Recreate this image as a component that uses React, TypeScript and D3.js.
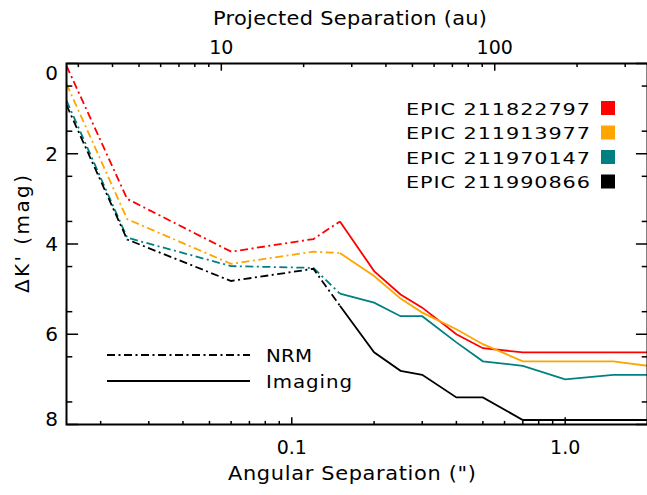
import React from "react";
import * as d3 from "d3";

const W = 647;
const H = 495;

const stars = ["EPIC 211822797", "EPIC 211913977", "EPIC 211970147", "EPIC 211990866"];
const colors = ["#ff0000", "#ffa500", "#008080", "#000000"];

const nrmSep = [0.015, 0.025, 0.06, 0.12, 0.15];
const nrmRed = [0.05, 3.0, 4.17, 3.89, 3.5];
const nrmOrange = [0.45, 3.45, 4.44, 4.17, 4.2];
const nrmTeal = [0.82, 3.86, 4.49, 4.53, 5.1];
const nrmBlack = [0.92, 3.9, 4.82, 4.55, 5.37];

const imgSep = [0.15, 0.2, 0.25, 0.3, 0.4, 0.5, 0.7, 1.0, 1.5, 2.0];
const imgRed = [3.5, 4.6, 5.12, 5.41, 6.0, 6.31, 6.4, 6.4, 6.4, 6.4];
const imgOrange = [4.2, 4.71, 5.21, 5.52, 5.89, 6.22, 6.6, 6.6, 6.6, 6.7];
const imgTeal = [5.1, 5.3, 5.6, 5.6, 6.18, 6.6, 6.7, 7.0, 6.9, 6.9];
const imgBlack = [5.37, 6.4, 6.81, 6.9, 7.4, 7.4, 7.9, 7.9, 7.9, 7.9];

const xMajor = [0.1, 1.0];
const xMajorLabels = ["0.1", "1.0"];
const topMajor = [10, 100];
const topMajorLabels = ["10", "100"];
const yMajor = [0, 2, 4, 6, 8];
const yMajorLabels = ["0", "2", "4", "6", "8"];
const distancePc = 181;

const FONT = "'DejaVu Sans', sans-serif";

function WideText(props: {
  x: number; y: number; sx: number; len: number; anchor?: string; size: number; rotate?: number; children: string;
}) {
  const { x, y, sx, len, anchor = "start", size, rotate = 0, children } = props;
  return (
    <text
      transform={`translate(${x},${y}) rotate(${rotate}) scale(${sx},1)`}
      textAnchor={anchor}
      fontSize={size}
      textLength={len / sx}
      lengthAdjust="spacing"
    >
      {children}
    </text>
  );
}

export default function App() {
  const left = 66.5, right = 647.5, top = 63.5, bottom = 424.5;
  const x = d3.scaleLog().domain([0.015, 2.0]).range([left, right]);
  const xTop = d3.scaleLog().domain([0.015 * distancePc, 2.0 * distancePc]).range([left, right]);
  const y = d3.scaleLinear().domain([0, 8]).range([top, bottom]);

  const nrmSets = [nrmRed, nrmOrange, nrmTeal, nrmBlack];
  const imgSets = [imgRed, imgOrange, imgTeal, imgBlack];

  const lineGen = (xs: number[], ys: number[]) =>
    d3.line<number>().x((_, i) => x(xs[i])).y((d) => y(d))(ys) as string;

  const xMinor = x.ticks().filter((t) => !xMajor.some((m) => Math.abs(m - t) < 1e-9));
  const topMinor = xTop.ticks().filter((t) => !topMajor.some((m) => Math.abs(m - t) < 1e-9));
  const yMinor = d3.range(0.5, 8, 1);

  const xMajLen = 7.2, xMinLen = 3.6, yMajLen = 11.6, yMinLen = 5.8;
  const dashDot = "8,3.5,2,3.5";
  const yLabelPos = (t: number) => Math.min(Math.max(y(t), top + 9), bottom - 6);

  return (
    <svg width={W} height={H} style={{ position: "absolute", left: 0, top: 0, background: "#fff" }}
      fontFamily={FONT}>
      <defs>
        <clipPath id="plotclip">
          <rect x={left} y={top} width={right - left} height={bottom - top} />
        </clipPath>
      </defs>

      <g clipPath="url(#plotclip)" fill="none" strokeWidth={1.8}>
        {nrmSets.map((s, i) => (
          <path key={"n" + i} d={lineGen(nrmSep, s)} stroke={colors[i]} strokeDasharray={dashDot} />
        ))}
        {imgSets.map((s, i) => (
          <path key={"m" + i} d={lineGen(imgSep, s)} stroke={colors[i]} />
        ))}
      </g>

      <rect x={left} y={top} width={right - left} height={bottom - top} fill="none" stroke="#000" strokeWidth={2} />

      <g stroke="#000" strokeWidth={1.5}>
        {xMajor.map((t) => (
          <line key={"bx" + t} x1={x(t)} x2={x(t)} y1={bottom} y2={bottom - xMajLen} />
        ))}
        {xMinor.map((t) => (
          <line key={"bm" + t} x1={x(t)} x2={x(t)} y1={bottom} y2={bottom - xMinLen} />
        ))}
        {topMajor.map((t) => (
          <line key={"tx" + t} x1={xTop(t)} x2={xTop(t)} y1={top} y2={top + xMajLen} />
        ))}
        {topMinor.map((t) => (
          <line key={"tm" + t} x1={xTop(t)} x2={xTop(t)} y1={top} y2={top + xMinLen} />
        ))}
        {yMajor.map((t) => (
          <g key={"y" + t}>
            <line x1={left} x2={left + yMajLen} y1={y(t)} y2={y(t)} />
            <line x1={right} x2={right - yMajLen} y1={y(t)} y2={y(t)} />
          </g>
        ))}
        {yMinor.map((t) => (
          <g key={"ym" + t}>
            <line x1={left} x2={left + yMinLen} y1={y(t)} y2={y(t)} />
            <line x1={right} x2={right - yMinLen} y1={y(t)} y2={y(t)} />
          </g>
        ))}
      </g>

      <g fontSize={19} fill="#000">
        {xMajor.map((t, i) => (
          <text key={"lx" + t} x={x(t)} y={454} textAnchor="middle">{xMajorLabels[i]}</text>
        ))}
        {topMajor.map((t, i) => (
          <text key={"lt" + t} x={xTop(t)} y={54} textAnchor="middle">{topMajorLabels[i]}</text>
        ))}
        {yMajor.map((t, i) => (
          <text key={"ly" + t} x={58} y={yLabelPos(t)} dy="0.36em" textAnchor="end" fontSize={20}>{yMajorLabels[i]}</text>
        ))}
      </g>

      <g fill="#000">
        <WideText x={350} y={25} sx={1.1} len={274} anchor="middle" size={19}>Projected Separation (au)</WideText>
        <WideText x={352} y={480} sx={1.1} len={248} anchor="middle" size={19}>Angular Separation (")</WideText>
        <WideText x={29} y={234} sx={1.05} len={118} anchor="middle" size={19} rotate={-90}>ΔK' (mag)</WideText>
      </g>

      <g fill="#000">
        {stars.map((s, i) => (
          <g key={s}>
            <WideText x={406} y={114.5 + i * 24.5} sx={1.3} len={184} size={16}>{s}</WideText>
            <rect x={601} y={101 + i * 24.5} width={14} height={14} fill={colors[i]} />
          </g>
        ))}
      </g>

      <g fill="#000">
        <line x1={107} x2={250} y1={355} y2={355} stroke="#000" strokeWidth={1.8} strokeDasharray={dashDot} />
        <line x1={107} x2={250} y1={381} y2={381} stroke="#000" strokeWidth={1.8} />
        <WideText x={266} y={362} sx={1.1} len={46} size={18}>NRM</WideText>
        <WideText x={266} y={388} sx={1.1} len={86} size={18}>Imaging</WideText>
      </g>
    </svg>
  );
}
